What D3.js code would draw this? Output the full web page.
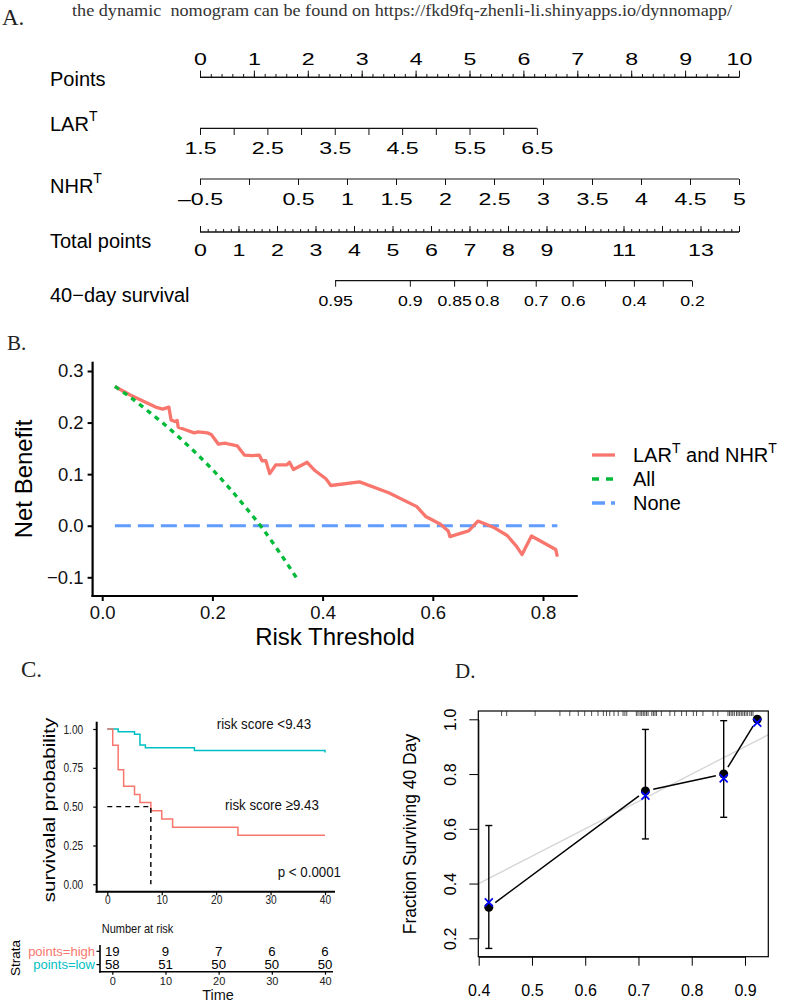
<!DOCTYPE html>
<html>
<head>
<meta charset="utf-8">
<script type="text/javascript" src="https://cdn.jsdelivr.net/npm/d3@7"></script>
<title>Nomogram, DCA, KM and calibration</title>
<style>
body { margin: 0; background: #fff; }
svg { display: block; font-family: "Liberation Sans", Arial, sans-serif; }
</style>
</head>
<body>
<svg id="fig" width="796" height="1001"></svg>
<script type="text/javascript">

// ---- A. nomogram ----
var pointsTicks = [0, 1, 2, 3, 4, 5, 6, 7, 8, 9, 10];
var larTicks = [1.5, 2, 2.5, 3, 3.5, 4, 4.5, 5, 5.5, 6, 6.5];
var larLabels = ["1.5", "", "2.5", "", "3.5", "", "4.5", "", "5.5", "", "6.5"];
var larMaxPoints = 6.25;
var nhrTicks = [-0.5, 0, 0.5, 1, 1.5, 2, 2.5, 3, 3.5, 4, 4.5, 5];
var nhrLabels = ["\u20130.5", "", "0.5", "1", "1.5", "2", "2.5", "3", "3.5", "4", "4.5", "5"];
var totalTicks = [0, 1, 2, 3, 4, 5, 6, 7, 8, 9, 10, 11, 12, 13, 14];
var totalLabels = ["0", "1", "2", "3", "4", "5", "6", "7", "8", "9", "", "11", "", "13", ""];
var survProb = [0.95, 0.9, 0.85, 0.8, 0.7, 0.6, 0.5, 0.4, 0.3, 0.2];
var survAtTotal = [3.51, 5.45, 6.60, 7.45, 8.72, 9.68, 10.52, 11.27, 12.02, 12.78];
var survLabels = ["0.95", "0.9", "0.85", "0.8", "0.7", "0.6", "", "0.4", "", "0.2"];

// ---- B. decision curve ----
var dcaThreshold = [0.023, 0.050, 0.070, 0.097, 0.110, 0.121, 0.125, 0.132, 0.136, 0.138, 0.151, 0.167, 0.174, 0.191,
    0.198, 0.211, 0.223, 0.231, 0.245, 0.258, 0.272, 0.285, 0.290, 0.297, 0.304, 0.315, 0.335, 0.340, 0.347, 0.372,
    0.386, 0.406, 0.415, 0.467, 0.520, 0.571, 0.587, 0.614, 0.628, 0.631, 0.665, 0.682, 0.712, 0.735, 0.752, 0.762,
    0.779, 0.823, 0.826];
var dcaModel = [0.270, 0.254, 0.244, 0.230, 0.226, 0.230, 0.205, 0.202, 0.204, 0.191, 0.186, 0.180, 0.182, 0.180,
    0.177, 0.158, 0.160, 0.158, 0.155, 0.137, 0.136, 0.137, 0.126, 0.126, 0.101, 0.118, 0.118, 0.123, 0.109, 0.123,
    0.107, 0.091, 0.078, 0.085, 0.064, 0.037, 0.018, 0.003, -0.010, -0.021, -0.010, 0.009, -0.004, -0.019, -0.040, -0.056,
    -0.020, -0.046, -0.060];
var allThreshold = [0.023, 0.05, 0.08, 0.11, 0.14, 0.17, 0.20, 0.23, 0.26, 0.29, 0.32, 0.352];
var allNB = [0.270, 0.250, 0.225, 0.199, 0.171, 0.141, 0.109, 0.074, 0.036, -0.004, -0.049, -0.100];
var noneThreshold = [0.023, 0.826];
var noneNB = [0, 0];

// ---- C. Kaplan-Meier ----
var lowTime = [0, 2, 5, 6, 7, 16, 40];
var lowSurv = [1, 0.983, 0.966, 0.897, 0.879, 0.862, 0.848];
var highTime = [0, 1, 2, 3, 5, 6, 8, 10, 12, 24, 40];
var highSurv = [1, 0.895, 0.737, 0.632, 0.579, 0.526, 0.474, 0.421, 0.368, 0.316, 0.316];
var medianHigh = 8;
var riskTime = [0, 10, 20, 30, 40];
var riskHigh = [19, 9, 7, 6, 6];
var riskLow = [58, 51, 50, 50, 50];

// ---- D. calibration ----
var calPred = [0.419, 0.713, 0.860, 0.923];
var calObs = [0.313, 0.738, 0.800, 1.0];
var calKM = [0.331, 0.721, 0.784, 0.988];
var calLow = [0.163, 0.563, 0.642, null];
var calHigh = [0.612, 0.963, 0.995, null];
var rugPred = [0.443, 0.4525, 0.506, 0.5525, 0.571, 0.587, 0.599, 0.612, 0.624, 0.634, 0.640, 0.646, 0.654, 0.662,
    0.671, 0.6745, 0.678, 0.696, 0.699, 0.703, 0.706, 0.709, 0.712, 0.715, 0.718, 0.725, 0.728, 0.731, 0.734, 0.743,
    0.759, 0.768, 0.781, 0.790, 0.803, 0.809, 0.821, 0.840, 0.849, 0.868, 0.871, 0.874, 0.877, 0.880, 0.884, 0.887,
    0.890, 0.893, 0.896, 0.899, 0.902, 0.905, 0.909, 0.912, 0.915];

var red = "#F8766D", teal = "#00BFC4", green = "#00BA38", blue = "#619CFF";
var serif = '"Liberation Serif", "Times New Roman", serif';

var svg = d3.select("#fig");
svg.append("rect").attr("width", 796).attr("height", 1001).attr("fill", "#fff");

// squeeze or stretch axis labels horizontally around their anchor
function scaleText(sel, sx) {
    sel.each(function() {
        var t = d3.select(this);
        var x = +t.attr("x") || 0;
        t.attr("x", 0).attr("transform", "translate(" + x + ",0) scale(" + sx + ",1)");
    });
}

function panelLabel(txt, x, y, size) {
    svg.append("text").attr("x", x).attr("y", y)
        .attr("font-family", serif).attr("font-size", size).attr("fill", "#222").text(txt);
}

svg.append("text").attr("x", 72).attr("y", 16)
    .attr("font-family", serif).attr("font-size", 17.5).attr("fill", "#333")
    .attr("textLength", 660).attr("lengthAdjust", "spacingAndGlyphs")
    .style("white-space", "pre")
    .text("the dynamic  nomogram can be found on https://fkd9fq-zhenli-li.shinyapps.io/dynnomapp/");

panelLabel("A.", 2, 25, 23);
panelLabel("B.", 7, 350, 21);
panelLabel("C.", 21, 677, 23);
panelLabel("D.", 455, 678, 21);

// ---------- A ----------
var ptsX = d3.scaleLinear().domain([0, 10]).range([200, 739]);
var larX = d3.scaleLinear().domain([1.5, 6.5]).range([ptsX(0), ptsX(larMaxPoints)]);
var nhrX = d3.scaleLinear().domain([-0.5, 5]).range([ptsX(0), ptsX(10)]);
var totX = d3.scaleLinear().domain([0, 14]).range([200, 739]);

function nomoRow(label, sup, baseY) {
    var t = svg.append("text").attr("x", 50).attr("y", baseY).attr("font-size", 20).attr("fill", "#000");
    t.append("tspan").text(label);
    if (sup) t.append("tspan").attr("font-size", 14).attr("dy", -10).text(sup);
}

function nomoAxis(y, scale, vals, labels, up, size, labelY, x0, x1, fs, sx) {
    var ax = (up ? d3.axisTop(scale) : d3.axisBottom(scale))
        .tickValues(vals).tickSize(size).tickSizeOuter(0)
        .tickFormat(function(d, i) { return labels ? labels[i] : ""; });
    var g = svg.append("g").attr("transform", "translate(0," + y + ")").call(ax);
    g.select(".domain").remove();
    g.append("line").attr("x1", x0).attr("x2", x1).attr("stroke", "#111").attr("stroke-width", 1.2);
    g.selectAll(".tick line").attr("stroke", "#111").attr("stroke-width", 1);
    g.selectAll(".tick text").attr("y", labelY).attr("dy", 0)
        .attr("font-family", '"Liberation Sans", Arial, sans-serif')
        .attr("font-size", fs || 16).attr("fill", "#000")
        .call(scaleText, sx || 1.45);
    return g;
}

nomoRow("Points", null, 86);
nomoRow("LAR", "T", 131);
nomoRow("NHR", "T", 193);
nomoRow("Total points", null, 248);
nomoRow("40\u2212day survival", null, 302);

nomoAxis(77.3, ptsX, d3.range(0, 10.001, 0.2), null, true, 3.3, 0, ptsX(0), ptsX(10));
nomoAxis(77.3, ptsX, pointsTicks, pointsTicks.map(String), true, 6.7, -12.5, ptsX(0), ptsX(10));
nomoAxis(128.3, larX, larTicks, larLabels, false, 6.7, 25.8, larX(1.5), larX(6.5));
nomoAxis(179, nhrX, nhrTicks, nhrLabels, false, 6, 26, nhrX(-0.5), nhrX(5));
nomoAxis(232, totX, d3.range(0, 14.001, 0.2), null, true, 3, 0, totX(0), totX(14));
nomoAxis(232, totX, totalTicks, totalLabels, true, 6, 23.8, totX(0), totX(14));
nomoAxis(280.7, totX, survAtTotal, survLabels, false, 6, 25, totX(survAtTotal[0]),
    totX(survAtTotal[survAtTotal.length - 1]), 15.5, 1.14);

// ---------- B ----------
var bX = d3.scaleLinear().domain([0, 0.8]).range([102.2, 543]);
var bY = d3.scaleLinear().domain([-0.1, 0.3]).range([577.3, 371]);
var gB = svg.append("g");

function styleB(g) {
    g.select(".domain").remove();
    g.selectAll(".tick line").attr("stroke", "#000").attr("stroke-width", 2);
    g.selectAll(".tick text").attr("font-size", 18.5).attr("fill", "#111")
        .attr("font-family", '"Liberation Sans", Arial, sans-serif');
}
var bAxY = gB.append("g").attr("transform", "translate(92.6,0)")
    .call(d3.axisLeft(bY).tickValues([-0.1, 0, 0.1, 0.2, 0.3]).tickSize(5).tickPadding(4).tickFormat(d3.format(".1f")));
styleB(bAxY);
bAxY.selectAll(".tick text").text(function(d) { return d < 0 ? "\u22120.1" : d3.format(".1f")(d); });
var bAxX = gB.append("g").attr("transform", "translate(0,596)")
    .call(d3.axisBottom(bX).tickValues([0, 0.2, 0.4, 0.6, 0.8]).tickSize(5).tickFormat(d3.format(".1f")));
styleB(bAxX);
bAxX.selectAll(".tick text").attr("y", 23.4).attr("dy", 0);
gB.append("line").attr("x1", 92.6).attr("x2", 92.6).attr("y1", 361.7).attr("y2", 597).attr("stroke", "#000").attr("stroke-width", 2.2);
gB.append("line").attr("x1", 91.5).attr("x2", 577.8).attr("y1", 596).attr("y2", 596).attr("stroke", "#000").attr("stroke-width", 2.2);

var bLine = d3.line().x(function(d) { return bX(d[0]); }).y(function(d) { return bY(d[1]); });
gB.append("path").datum(d3.zip(noneThreshold, noneNB)).attr("d", bLine)
    .attr("fill", "none").attr("stroke", blue).attr("stroke-width", 3).attr("stroke-dasharray", "16,7");
gB.append("path").datum(d3.zip(dcaThreshold, dcaModel)).attr("d", bLine)
    .attr("fill", "none").attr("stroke", red).attr("stroke-width", 3.3).attr("stroke-linejoin", "round");
gB.append("path").datum(d3.zip(allThreshold, allNB)).attr("d", d3.line().curve(d3.curveMonotoneX)
        .x(function(d) { return bX(d[0]); }).y(function(d) { return bY(d[1]); }))
    .attr("fill", "none").attr("stroke", green).attr("stroke-width", 3.3).attr("stroke-dasharray", "5,5");

gB.append("text").attr("transform", "translate(32,479) rotate(-90)").attr("text-anchor", "middle")
    .attr("font-size", 24).attr("fill", "#000").text("Net Benefit");
gB.append("text").attr("x", 335).attr("y", 645).attr("text-anchor", "middle")
    .attr("font-size", 24).attr("fill", "#000").text("Risk Threshold");

var legendItems = [
    { color: red, dash: null, y: 455 },
    { color: green, dash: "7,7", y: 479, label: "All" },
    { color: blue, dash: "13,6,4,6", y: 503, label: "None" }
];
var lg = gB.selectAll("g.leg").data(legendItems).enter().append("g").attr("class", "leg");
lg.append("line").attr("x1", 592).attr("x2", 615).attr("y1", function(d) { return d.y; }).attr("y2", function(d) { return d.y; })
    .attr("stroke", function(d) { return d.color; }).attr("stroke-width", 3.3)
    .attr("stroke-dasharray", function(d) { return d.dash; });
var lt = lg.append("text").attr("x", 633).attr("y", function(d) { return d.y + 7; })
    .attr("font-size", 20).attr("fill", "#000");
lt.filter(function(d) { return d.label; }).text(function(d) { return d.label; });
var lt0 = lt.filter(function(d) { return !d.label; });
lt0.append("tspan").text("LAR");
lt0.append("tspan").attr("font-size", 14).attr("dy", -9).text("T");
lt0.append("tspan").attr("dy", 9).style("white-space", "pre").text(" and NHR");
lt0.append("tspan").attr("font-size", 14).attr("dy", -9).text("T");

// ---------- C ----------
var cX = d3.scaleLinear().domain([0, 40]).range([107.3, 325]);
var cY = d3.scaleLinear().domain([0, 1]).range([884.3, 729]);
var gC = svg.append("g");

var cAxY = gC.append("g").attr("transform", "translate(96.7,0)")
    .call(d3.axisLeft(cY).tickValues([0, 0.25, 0.5, 0.75, 1]).tickSize(3.5).tickPadding(10).tickFormat(d3.format(".2f")));
var cAxX = gC.append("g").attr("transform", "translate(0,891.7)")
    .call(d3.axisBottom(cX).tickValues([0, 10, 20, 30, 40]).tickSize(3.5).tickPadding(5));
[cAxY, cAxX].forEach(function(g) {
    g.select(".domain").remove();
    g.selectAll(".tick line").attr("stroke", "#000").attr("stroke-width", 1.2);
    g.selectAll(".tick text").attr("font-size", 13).attr("fill", "#222")
        .attr("font-family", '"Liberation Sans", Arial, sans-serif');
});
cAxY.selectAll(".tick text").call(scaleText, 0.78);
cAxX.selectAll(".tick text").attr("y", 12.5).attr("dy", 0).call(scaleText, 0.78);
gC.append("line").attr("x1", 96.7).attr("x2", 96.7).attr("y1", 721.7).attr("y2", 892.7).attr("stroke", "#000").attr("stroke-width", 2);
gC.append("line").attr("x1", 95.7).attr("x2", 335).attr("y1", 891.7).attr("y2", 891.7).attr("stroke", "#000").attr("stroke-width", 2);

var kmLine = d3.line().curve(d3.curveStepAfter)
    .x(function(d) { return cX(d[0]); }).y(function(d) { return cY(d[1]); });
gC.append("path").datum(d3.zip(lowTime, lowSurv)).attr("d", kmLine)
    .attr("fill", "none").attr("stroke", teal).attr("stroke-width", 1.5);
gC.append("path").datum(d3.zip(highTime, highSurv)).attr("d", kmLine)
    .attr("fill", "none").attr("stroke", red).attr("stroke-width", 1.5);
gC.append("path").datum([[0, 0.5], [medianHigh, 0.5], [medianHigh, 0]])
    .attr("d", d3.line().x(function(d) { return cX(d[0]); }).y(function(d) { return cY(d[1]); }))
    .attr("fill", "none").attr("stroke", "#000").attr("stroke-width", 1.4).attr("stroke-dasharray", "5,4");

function cText(txt, x, y, size, sx, anchor, color) {
    return gC.append("text").attr("transform", "translate(" + x + "," + y + ") scale(" + sx + ",1)")
        .attr("text-anchor", anchor || "start").attr("font-size", size).attr("fill", color || "#111").text(txt);
}
cText("risk score <9.43", 216.7, 728.5, 15.5, 0.86);
cText("risk score \u22659.43", 225, 810, 15.5, 0.86);
cText("p < 0.0001", 277.7, 876.5, 15.5, 0.86);
gC.append("text").attr("transform", "translate(55,810) rotate(-90) scale(1,0.82)").attr("text-anchor", "middle")
    .attr("font-size", 20.5).attr("fill", "#000").text("survivalal probability");

// risk table
var cT = d3.scaleLinear().domain([0, 40]).range([112.3, 325]);
cText("Number at risk", 101.7, 932.5, 12, 0.92);
gC.append("text").attr("transform", "translate(20,958) rotate(-90)").attr("text-anchor", "middle")
    .attr("font-size", 13.5).attr("fill", "#000").text("Strata");
var strata = [
    { name: "points=high", color: red, y: 951.3, n: riskHigh },
    { name: "points=low", color: teal, y: 964.6, n: riskLow }
];
strata.forEach(function(s) {
    cText(s.name, 95, s.y + 4.6, 13, 1, "end", s.color);
    gC.append("line").attr("x1", 96.5).attr("x2", 100).attr("y1", s.y).attr("y2", s.y).attr("stroke", "#000").attr("stroke-width", 1.2);
    gC.selectAll(null).data(s.n).enter().append("text")
        .attr("x", function(d, i) { return cT(riskTime[i]); }).attr("y", s.y + 4.7)
        .attr("text-anchor", "middle").attr("font-size", 13.2).attr("fill", "#000")
        .text(function(d) { return d; });
});
gC.append("line").attr("x1", 100).attr("x2", 100).attr("y1", 945).attr("y2", 972.7).attr("stroke", "#000").attr("stroke-width", 1.6);
var tAx = gC.append("g").attr("transform", "translate(0,971.7)")
    .call(d3.axisBottom(cT).tickValues(riskTime).tickSize(3).tickSizeOuter(0));
tAx.select(".domain").remove();
gC.append("line").attr("x1", 99.2).attr("x2", 333).attr("y1", 971.7).attr("y2", 971.7).attr("stroke", "#000").attr("stroke-width", 1.6);
tAx.selectAll(".tick line").attr("stroke", "#000").attr("stroke-width", 1.2);
tAx.selectAll(".tick text").attr("font-size", 11).attr("fill", "#222").attr("y", 13).attr("dy", 0)
    .attr("font-family", '"Liberation Sans", Arial, sans-serif');
cText("Time", 218, 999.5, 14.5, 1, "middle", "#111");

// ---------- D ----------
var dX = d3.scaleLinear().domain([0.4, 0.9]).range([478.7, 745]);
var dY = d3.scaleLinear().domain([0.2, 1.0]).range([938.3, 719.3]);
var gD = svg.append("g");
var box = { x0: 478.3, x1: 768.3, y0: 711, y1: 956.7 };

gD.append("clipPath").attr("id", "dclip").append("rect")
    .attr("x", box.x0).attr("y", box.y0).attr("width", box.x1 - box.x0).attr("height", box.y1 - box.y0);
gD.append("line").attr("clip-path", "url(#dclip)")
    .attr("x1", dX(0.3)).attr("y1", dY(0.3)).attr("x2", dX(1.05)).attr("y2", dY(1.05))
    .attr("stroke", "#d4d4d4").attr("stroke-width", 1.3);

var dAxX = gD.append("g").attr("transform", "translate(0," + box.y1 + ")")
    .call(d3.axisBottom(dX).tickValues([0.4, 0.5, 0.6, 0.7, 0.8, 0.9]).tickSize(9).tickSizeOuter(0).tickFormat(d3.format(".1f")));
var dAxY = gD.append("g").attr("transform", "translate(" + box.x0 + ",0)")
    .call(d3.axisLeft(dY).tickValues([0.2, 0.4, 0.6, 0.8, 1.0]).tickSize(9).tickSizeOuter(0).tickFormat(d3.format(".1f")));
[dAxX, dAxY].forEach(function(g) {
    g.select(".domain").attr("stroke", "#000");
    g.selectAll(".tick line").attr("stroke", "#000");
    g.selectAll(".tick text").attr("font-size", 16).attr("fill", "#000")
        .attr("font-family", '"Liberation Sans", Arial, sans-serif');
});
dAxX.selectAll(".tick text").attr("y", 39).attr("dy", 0);
dAxY.selectAll(".tick text").attr("x", 0).attr("dy", 0).attr("y", 0).attr("text-anchor", "middle")
    .attr("transform", "translate(-22.5,0) rotate(-90)");
gD.append("rect").attr("x", box.x0).attr("y", box.y0).attr("width", box.x1 - box.x0).attr("height", box.y1 - box.y0)
    .attr("fill", "none").attr("stroke", "#000").attr("stroke-width", 1.2);

gD.selectAll("line.rug").data(rugPred).enter().append("line").attr("class", "rug")
    .attr("x1", function(d) { return dX(d); }).attr("x2", function(d) { return dX(d); })
    .attr("y1", box.y0).attr("y2", box.y0 + 5).attr("stroke", "#222").attr("stroke-width", 0.8);

// type="b" segments with gaps at the points
for (var i = 0; i < calPred.length - 1; i++) {
    var ax = dX(calPred[i]), ay = dY(calObs[i]), bx = dX(calPred[i + 1]), by = dY(calObs[i + 1]);
    var len = Math.hypot(bx - ax, by - ay), gap = 8;
    gD.append("line")
        .attr("x1", ax + (bx - ax) * gap / len).attr("y1", ay + (by - ay) * gap / len)
        .attr("x2", bx - (bx - ax) * gap / len).attr("y2", by - (by - ay) * gap / len)
        .attr("stroke", "#000").attr("stroke-width", 1.5);
}
calPred.forEach(function(p, i) {
    if (calLow[i] === null) return;
    var x = dX(p);
    gD.append("line").attr("x1", x).attr("x2", x).attr("y1", dY(calLow[i])).attr("y2", dY(calHigh[i])).attr("stroke", "#000").attr("stroke-width", 1.4);
    [calLow[i], calHigh[i]].forEach(function(v) {
        gD.append("line").attr("x1", x - 3.5).attr("x2", x + 3.5).attr("y1", dY(v)).attr("y2", dY(v)).attr("stroke", "#000").attr("stroke-width", 1.4);
    });
});
gD.selectAll("circle.obs").data(calPred).enter().append("circle").attr("class", "obs")
    .attr("cx", function(d) { return dX(d); }).attr("cy", function(d, i) { return dY(calObs[i]); })
    .attr("r", 4.5).attr("fill", "#000");
gD.selectAll("path.km").data(calPred).enter().append("path").attr("class", "km")
    .attr("transform", function(d, i) { return "translate(" + dX(d) + "," + dY(calKM[i]) + ")"; })
    .attr("d", "M-4,-4L4,4M-4,4L4,-4").attr("stroke", "#0000ff").attr("stroke-width", 1.7);

gD.append("text").attr("transform", "translate(416,834) rotate(-90)").attr("text-anchor", "middle")
    .attr("font-size", 17.5).attr("fill", "#000").text("Fraction Surviving 40 Day");

</script>
</body>
</html>
